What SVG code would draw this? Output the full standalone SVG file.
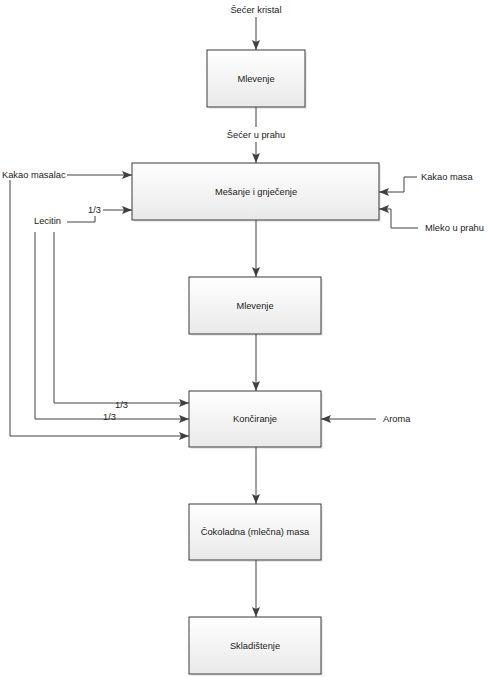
<svg xmlns="http://www.w3.org/2000/svg" width="489" height="677" viewBox="0 0 489 677">
<defs>
<linearGradient id="g" x1="0" y1="0" x2="0" y2="1">
<stop offset="0" stop-color="#ffffff"/>
<stop offset="1" stop-color="#e9e9e9"/>
</linearGradient>
<marker id="a" markerWidth="10" markerHeight="8" refX="10" refY="4" orient="auto" markerUnits="userSpaceOnUse">
<path d="M0,0 L10,4 L0,8 L2,4 Z" fill="#404040"/>
</marker>
</defs>
<style>
text{font-family:"Liberation Sans",Arial,sans-serif;font-size:9.3px;fill:#222}
.box rect.b{fill:url(#g);stroke:#3a3a3a;stroke-width:1}
.box rect.s{fill:#000;opacity:0.08}
.c path,.c line{fill:none;stroke:#404040;stroke-width:1}
.ar{marker-end:url(#a)}
</style>
<rect width="489" height="677" fill="#fff"/>
<g id="n1" class="box"><rect class="s" x="209" y="52" width="98" height="57"/><rect class="b" x="207" y="50" width="98" height="57"/><text x="256" y="82" text-anchor="middle">Mlevenje</text></g>
<g id="n2" class="box"><rect class="s" x="134" y="165" width="247" height="57"/><rect class="b" x="132" y="163" width="247" height="57"/><text x="256" y="195" text-anchor="middle">Mešanje i gnječenje</text></g>
<g id="n3" class="box"><rect class="s" x="191" y="279" width="132" height="57"/><rect class="b" x="189" y="277" width="132" height="57"/><text x="255" y="309" text-anchor="middle">Mlevenje</text></g>
<g id="n4" class="box"><rect class="s" x="191" y="393" width="132" height="56"/><rect class="b" x="189" y="391" width="132" height="56"/><text x="255" y="422" text-anchor="middle">Končiranje</text></g>
<g id="n5" class="box"><rect class="s" x="191" y="506" width="132" height="56"/><rect class="b" x="189" y="504" width="132" height="56"/><text x="255" y="535" text-anchor="middle">Čokoladna (mlečna) masa</text></g>
<g id="n6" class="box"><rect class="s" x="191" y="619" width="132" height="57"/><rect class="b" x="189" y="617" width="132" height="57"/><text x="255" y="649" text-anchor="middle">Skladištenje</text></g>
<g id="connectors" class="c">
<path class="ar" d="M256,17 V50"/>
<path d="M256,107 V127"/>
<path class="ar" d="M256,142 V163"/>
<path class="ar" d="M256,220 V277"/>
<path class="ar" d="M256,334 V391"/>
<path class="ar" d="M256,447 V504"/>
<path class="ar" d="M256,560 V617"/>
<path class="ar" d="M67,175 H132"/>
<path d="M67,222 H95 V216"/>
<path class="ar" d="M103,210 H132"/>
<path class="ar" d="M417,177 H404 V192 H379"/>
<path class="ar" d="M418,228 H391 V209 H379"/>
<path class="ar" d="M376,419 H321"/>
<path class="ar" d="M10,180 V436 H189"/>
<path class="ar" d="M35,232 V419 H189"/>
<path class="ar" d="M54,232 V403 H189"/>
</g>
<g id="labels">
<text x="256" y="13" text-anchor="middle">Šećer kristal</text>
<text x="256" y="138" text-anchor="middle">Šećer u prahu</text>
<text x="2" y="178">Kakao masalac</text>
<text x="34" y="224">Lecitin</text>
<text x="88" y="213">1/3</text>
<text x="421" y="180">Kakao masa</text>
<text x="425" y="231">Mleko u prahu</text>
<text x="383" y="422">Aroma</text>
<text x="115" y="408">1/3</text>
<text x="103" y="420">1/3</text>
</g>
</svg>
